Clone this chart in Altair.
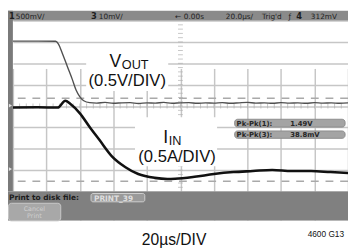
import altair as alt
import pandas as pd

# ---------------- data (time in µs, 20 µs/div; amplitude in screen divisions) -------------
vout_t = [-100, -85, -74.5, -72.8, -70.4, -67.5, -64.6, -62.3, -60.0, -57.7, -54.2,
          -50, -45, -40, -35, -30, -25, -20, -15, -10, -5, 0, 5, 10, 15, 20, 25, 30,
          35, 40, 45, 50, 55, 60, 65, 70, 75, 80, 85, 90, 95, 100]
vout_div = [3.04, 3.04, 3.03, 2.90, 2.45, 1.85, 1.26, 0.75, 0.43, 0.25, 0.16,
            0.14, 0.17, 0.13, 0.15, 0.16, 0.12, 0.15, 0.14, 0.17, 0.13, 0.15, 0.16, 0.13,
            0.15, 0.14, 0.16, 0.13, 0.15, 0.17, 0.14, 0.15, 0.13, 0.16, 0.14, 0.15, 0.13,
            0.16, 0.14, 0.15, 0.13, 0.15]

iin_t = [-100, -85, -73.3, -68.7, -65.8, -60, -54.2, -48.4, -40.9, -32.8, -25.2, -15.4,
         -7.8, -3.2, 8.4, 20, 31.6, 43.2, 54.8, 66.4, 78, 89.6, 100]
iin_div = [-0.07, -0.06, -0.07, 0.25, 0.11, -0.34, -0.98, -1.58, -2.35, -2.86, -3.18, -3.36,
           -3.41, -3.40, -3.31, -3.18, -3.09, -3.04, -2.99, -3.04, -3.04, -3.09, -3.13]

ref_levels = [0.37, -3.52]           # dashed reference markers (div)
x_grid = [-100, -80, -60, -40, -20, 0, 20, 40, 60, 80, 100]
y_grid = [-4, -3, -2, -1, 0, 1, 2, 3, 4]

top_texts = [("1", 1, True), ("500mV/", 8, False), ("3", 85, True), ("10mV/", 93, False),
             ("\u2190", 171, False), ("0.00s", 180, False), ("20.0\u00b5s/", 223, False),
             ("Trig'd", 260, False), ("\u0192", 287, False), ("4", 295, True), ("312mV", 310, False)]

# ---------------- frames ----------------
vout_df = pd.DataFrame({"t": vout_t, "v": vout_div})
iin_df = pd.DataFrame({"t": iin_t, "v": iin_div})
ref_df = pd.DataFrame({"v": ref_levels})
vt_df = pd.DataFrame({"t": [0] * 39, "v": [round(-3.8 + 0.2 * i, 2) for i in range(39)]})
ht_df = pd.DataFrame({"t": [-96 + 4 * i for i in range(49)], "v": [0] * 49})
one = pd.DataFrame({"k": [0]})

W, H = 348, 244
xs = alt.Scale(domain=[-100, 100], range=[5, 348], nice=False, zero=False)
ys = alt.Scale(domain=[-4, 4], range=[185, 10], nice=False, zero=False)
xa = alt.Axis(values=x_grid, grid=True, labels=False, ticks=False, domain=False, title=None,
              gridColor="#c6c6c6", gridWidth=1.5)
ya = alt.Axis(values=y_grid, grid=True, labels=False, ticks=False, domain=False, title=None,
              gridColor="#c6c6c6", gridWidth=1.5)
X = alt.X("t:Q", scale=xs, axis=xa)
Y = alt.Y("v:Q", scale=ys, axis=ya)

SANS = "Liberation Sans"
MONO = "DejaVu Sans"


def rect(x1, y1, x2, y2, fill, stroke=None, r=0, sw=1):
    kw = dict(fill=fill, cornerRadius=r)
    if stroke:
        kw.update(stroke=stroke, strokeWidth=sw)
    return alt.Chart(one).mark_rect(**kw).encode(
        x=alt.value(x1), x2=alt.value(x2), y=alt.value(y1), y2=alt.value(y2))


def txt(s, x, y, size, color="#111111", align="left", weight="normal", font=SANS):
    return alt.Chart(one).mark_text(text=s, align=align, baseline="alphabetic", fontSize=size,
                                    font=font, fontWeight=weight, color=color).encode(
        x=alt.value(x), y=alt.value(y))


layers = []
layers.append(alt.Chart(ref_df).mark_rule(color="#a9a9a9", strokeWidth=1.5, strokeDash=[8, 7]).encode(y=Y))
layers.append(alt.Chart(vt_df).mark_tick(orient="horizontal", size=5, thickness=1, color="#b0b0b0").encode(x=X, y=Y))
layers.append(alt.Chart(ht_df).mark_tick(orient="vertical", size=5, thickness=1, color="#b0b0b0").encode(x=X, y=Y))
layers.append(alt.Chart(vout_df).mark_line(color="#505050", strokeWidth=1.4, interpolate="monotone").encode(x=X, y=Y))
layers.append(alt.Chart(iin_df).mark_line(color="#111111", strokeWidth=2.6, interpolate="monotone").encode(x=X, y=Y))

# scope frame
layers.append(rect(0, 0, W, 10, "#8a8a8a"))
layers.append(rect(0, 0, 5, 185, "#7a7a7a"))
layers.append(rect(0, 185, W, 215, "#808080"))
layers.append(rect(0, 215, W, H, "#ffffff"))

for yy in (97, 162):
    layers.append(alt.Chart(one).mark_point(shape="triangle-right", filled=True, size=14, color="#e0e0e0",
                                            opacity=1).encode(x=alt.value(2.5), y=alt.value(yy)))

for s, x, b in top_texts:
    layers.append(txt(s, x, 8.5, 8.5 if b else 7.5, color="#1e1e1e", weight="bold" if b else "normal", font=MONO))

# measurement boxes
layers.append(rect(232, 111, 345, 119, "#a4a4a4", stroke="#8c8c8c", r=3))
layers.append(rect(232, 123, 345, 130.5, "#a4a4a4", stroke="#8c8c8c", r=3))
layers.append(txt("Pk-Pk(1):", 234, 118, 7, color="#262626", weight="bold", font=MONO))
layers.append(txt("1.49V", 289, 118, 7, color="#262626", weight="bold", font=MONO))
layers.append(txt("Pk-Pk(3):", 234, 129.5, 7, color="#262626", weight="bold", font=MONO))
layers.append(txt("38.8mV", 289, 129.5, 7, color="#262626", weight="bold", font=MONO))

# bottom bar
layers.append(txt("Print to disk file:", 1, 193.5, 7.6, color="#1c1c1c", weight="bold", font=MONO))
layers.append(rect(85, 187, 140, 195.5, "#9a9a9a", stroke="#d0d0d0", r=2))
layers.append(txt("PRINT_39", 88, 194.5, 7.6, color="#dedede", weight="bold", font=MONO))
layers.append(rect(0.5, 197, 54, 215, "#a8a8a8", stroke="#c8c8c8", r=3))
layers.append(txt("Cancel", 27, 204.5, 6.5, color="#cfcfcf", align="center", font=MONO))
layers.append(txt("Print", 27, 212, 6.5, color="#cfcfcf", align="center", font=MONO))

# trace labels
layers.append(rect(80, 37, 164, 82, "#ffffff"))
layers.append(txt("V", 104, 58, 18))
layers.append(txt("OUT", 116.5, 60, 13))
layers.append(txt("(0.5V/DIV)", 122, 77, 17, align="center"))
layers.append(rect(130, 109, 214, 159, "#ffffff"))
layers.append(txt("I", 159, 135, 18))
layers.append(txt("IN", 164.5, 137, 13))
layers.append(txt("(0.5A/DIV)", 173, 155, 17, align="center"))

# caption
layers.append(txt("20\u00b5s/DIV", 170, 240, 16, align="center"))
layers.append(txt("4600 G13", 344, 232, 8.5, align="right"))

chart = alt.layer(*layers).properties(
    width=W, height=H, padding=0, autosize=alt.AutoSizeParams(type="none"),
    background="#ffffff",
).configure_view(stroke=None)

chart.save("out.html", embed_options={"renderer": "svg", "actions": False})
